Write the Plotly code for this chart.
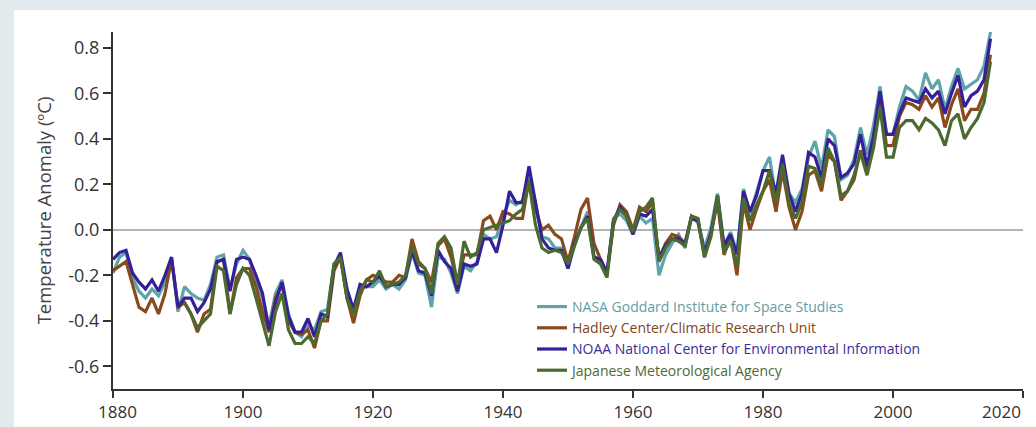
import plotly.graph_objects as go

years = list(range(1880, 2016))
jma_years = list(range(1891, 2016))

nasa = [-0.19, -0.12, -0.10, -0.21, -0.27, -0.30, -0.26, -0.29, -0.23, -0.12,
        -0.36, -0.25, -0.28, -0.30, -0.31, -0.24, -0.12, -0.11, -0.26, -0.15,
        -0.09, -0.13, -0.22, -0.30, -0.42, -0.28, -0.22, -0.37, -0.45, -0.47,
        -0.42, -0.44, -0.36, -0.35, -0.15, -0.12, -0.30, -0.39, -0.26, -0.25,
        -0.25, -0.22, -0.26, -0.24, -0.26, -0.22, -0.10, -0.19, -0.20, -0.34,
        -0.12, -0.13, -0.19, -0.28, -0.16, -0.18, -0.14, -0.02, -0.04, -0.03,
        0.06, 0.13, 0.11, 0.13, 0.24, 0.12, -0.03, -0.04, -0.08, -0.08,
        -0.17, -0.07, 0.01, 0.08, -0.12, -0.14, -0.19, 0.05, 0.07, 0.04,
        -0.02, 0.06, 0.03, 0.05, -0.20, -0.11, -0.06, -0.02, -0.08, 0.06,
        0.03, -0.08, 0.01, 0.16, -0.07, -0.01, -0.10, 0.18, 0.07, 0.16,
        0.26, 0.32, 0.14, 0.31, 0.16, 0.12, 0.18, 0.32, 0.39, 0.27,
        0.44, 0.41, 0.22, 0.24, 0.31, 0.45, 0.33, 0.46, 0.63, 0.42,
        0.42, 0.54, 0.63, 0.61, 0.57, 0.69, 0.62, 0.66, 0.53, 0.63,
        0.71, 0.62, 0.64, 0.66, 0.72, 0.87]

hadley = [-0.18, -0.16, -0.14, -0.24, -0.34, -0.36, -0.30, -0.37, -0.28, -0.13,
          -0.34, -0.32, -0.37, -0.45, -0.37, -0.35, -0.14, -0.13, -0.37, -0.21,
          -0.17, -0.17, -0.25, -0.36, -0.45, -0.30, -0.24, -0.40, -0.45, -0.46,
          -0.44, -0.52, -0.40, -0.40, -0.18, -0.12, -0.30, -0.41, -0.29, -0.22,
          -0.20, -0.21, -0.23, -0.23, -0.20, -0.21, -0.04, -0.14, -0.17, -0.23,
          -0.07, -0.04, -0.12, -0.24, -0.11, -0.11, -0.11, 0.04, 0.06, 0.00,
          0.08, 0.07, 0.05, 0.05, 0.22, 0.09, 0.00, 0.02, -0.02, -0.04,
          -0.14, -0.03, 0.09, 0.14, -0.06, -0.13, -0.19, 0.02, 0.11, 0.08,
          0.00, 0.10, 0.08, 0.12, -0.13, -0.06, -0.02, -0.03, -0.06, 0.06,
          0.04, -0.12, -0.01, 0.12, -0.11, -0.03, -0.20, 0.12, 0.00, 0.09,
          0.17, 0.22, 0.08, 0.26, 0.10, 0.00, 0.08, 0.24, 0.26, 0.17,
          0.33, 0.30, 0.13, 0.17, 0.22, 0.35, 0.25, 0.40, 0.57, 0.37,
          0.37, 0.50, 0.56, 0.55, 0.53, 0.59, 0.54, 0.58, 0.45, 0.55,
          0.62, 0.48, 0.53, 0.53, 0.60, 0.77]

noaa = [-0.13, -0.10, -0.09, -0.19, -0.23, -0.26, -0.22, -0.27, -0.20, -0.12,
        -0.34, -0.30, -0.30, -0.36, -0.32, -0.26, -0.14, -0.13, -0.27, -0.13,
        -0.12, -0.13, -0.20, -0.28, -0.44, -0.32, -0.23, -0.38, -0.45, -0.45,
        -0.39, -0.47, -0.37, -0.38, -0.16, -0.10, -0.26, -0.35, -0.24, -0.25,
        -0.23, -0.20, -0.25, -0.24, -0.24, -0.21, -0.09, -0.18, -0.19, -0.29,
        -0.09, -0.14, -0.17, -0.27, -0.15, -0.16, -0.15, -0.04, -0.04, -0.10,
        0.02, 0.17, 0.12, 0.12, 0.28, 0.12, -0.04, -0.08, -0.09, -0.09,
        -0.17, -0.06, 0.01, 0.06, -0.12, -0.13, -0.19, 0.04, 0.10, 0.06,
        -0.02, 0.07, 0.06, 0.09, -0.12, -0.07, -0.04, -0.04, -0.06, 0.05,
        0.04, -0.10, -0.02, 0.15, -0.07, -0.02, -0.11, 0.17, 0.08, 0.15,
        0.26, 0.26, 0.16, 0.33, 0.16, 0.08, 0.16, 0.34, 0.32, 0.23,
        0.40, 0.37, 0.23, 0.25, 0.29, 0.42, 0.28, 0.41, 0.61, 0.42,
        0.42, 0.51, 0.58, 0.57, 0.56, 0.62, 0.58, 0.61, 0.51, 0.60,
        0.68, 0.54, 0.59, 0.61, 0.66, 0.84]

jma = [-0.32, -0.37, -0.43, -0.40, -0.37, -0.16, -0.18, -0.37, -0.24,
       -0.17, -0.20, -0.30, -0.40, -0.51, -0.36, -0.28, -0.44, -0.50, -0.50,
       -0.47, -0.50, -0.40, -0.37, -0.15, -0.12, -0.30, -0.37, -0.27, -0.22,
       -0.23, -0.18, -0.25, -0.24, -0.23, -0.20, -0.07, -0.15, -0.17, -0.28,
       -0.06, -0.03, -0.08, -0.24, -0.05, -0.12, -0.10, 0.00, 0.01, 0.02,
       0.03, 0.04, 0.07, 0.09, 0.21, 0.02, -0.08, -0.10, -0.09, -0.10,
       -0.15, -0.07, 0.01, 0.05, -0.13, -0.15, -0.21, 0.04, 0.09, 0.06,
       -0.01, 0.08, 0.10, 0.14, -0.14, -0.08, -0.04, -0.05, -0.07, 0.06,
       0.05, -0.12, -0.03, 0.15, -0.10, -0.05, -0.16, 0.14, 0.04, 0.11,
       0.17, 0.26, 0.12, 0.29, 0.12, 0.05, 0.12, 0.28, 0.27, 0.20,
       0.36, 0.30, 0.15, 0.17, 0.24, 0.34, 0.24, 0.36, 0.54, 0.32,
       0.32, 0.45, 0.48, 0.48, 0.44, 0.49, 0.47, 0.44, 0.37, 0.48,
       0.51, 0.40, 0.45, 0.49, 0.56, 0.74]

names = ["NASA Goddard Institute for Space Studies",
         "Hadley Center/Climatic Research Unit",
         "NOAA National Center for Environmental Information",
         "Japanese Meteorological Agency"]
line_colors = ["#5fa3ab", "#8b4a1d", "#35209a", "#4b6a30"]
text_colors = ["#5e9ea6", "#7d4722", "#3d2b9a", "#4d6a35"]

x_ticks = [1880, 1900, 1920, 1940, 1960, 1980, 2000, 2020]
x_tick_text = ["&nbsp;&nbsp;1880", "1900", "1920", "1940", "1960", "1980", "2000", ""]
last_tick_label = "2020"
y_ticks = [-0.6, -0.4, -0.2, 0.0, 0.2, 0.4, 0.6, 0.8]

series = [(years, nasa), (years, hadley), (years, noaa), (jma_years, jma)]

fig = go.Figure()
for (xs, ys), name, lc, tc in zip(series, names, line_colors, text_colors):
    fig.add_trace(go.Scatter(
        x=xs, y=ys, mode="lines",
        name=f'<span style="color:{tc}">{name}</span>',
        line=dict(color=lc, width=3.2),
    ))

# white panel on the light grey-blue page
fig.add_shape(type="rect", xref="paper", yref="paper",
              x0=(14 - 113) / 910, x1=(1040 - 113) / 910,
              y0=(389 - 430) / 357, y1=(389 - 10) / 357,
              fillcolor="white", line=dict(width=0), layer="below")

# last x tick label, right-aligned to the axis end so it stays inside the page
fig.add_annotation(text=last_tick_label, xref="paper", yref="paper",
                   x=1, y=0, xanchor="right", yanchor="top", yshift=-9,
                   showarrow=False, font=dict(size=17, color="#333333"))

fig.update_layout(
    width=1036, height=427,
    margin=dict(l=113, r=13, t=32, b=38, autoexpand=False),
    paper_bgcolor="#e3eaee",
    plot_bgcolor="white",
    font=dict(family="Open Sans", color="#333333"),
    showlegend=True,
    legend=dict(x=(532 - 113) / 910, y=(389 - 291) / 357,
                xanchor="left", yanchor="top",
                bgcolor="rgba(0,0,0,0)", font=dict(size=14),
                tracegroupgap=0),
    xaxis=dict(range=[1880, 2020], tickvals=x_ticks, ticktext=x_tick_text,
               automargin=False,
               showgrid=False, zeroline=False,
               showline=True, linecolor="#333333", linewidth=2,
               ticks="outside", ticklen=7, tickwidth=1.5, tickcolor="#333333",
               tickfont=dict(size=17, color="#333333")),
    yaxis=dict(range=[-0.70, 0.87], tickvals=y_ticks,
               ticktext=[f"{v:.1f}" for v in y_ticks],
               automargin=False,
               showgrid=False,
               zeroline=True, zerolinecolor="#b3b3b3", zerolinewidth=1.5,
               showline=True, linecolor="#333333", linewidth=2,
               ticks="outside", ticklen=8, tickwidth=1.5, tickcolor="#333333",
               tickfont=dict(size=18, color="#333333"),
               title=dict(text="Temperature Anomaly (ºC)",
                          font=dict(size=18.5, color="#444444"), standoff=12)),
)

fig.write_html("out.html",
               config={"displayModeBar": False},
               post_script="document.body.style.margin='0';document.body.style.overflow='hidden';")
